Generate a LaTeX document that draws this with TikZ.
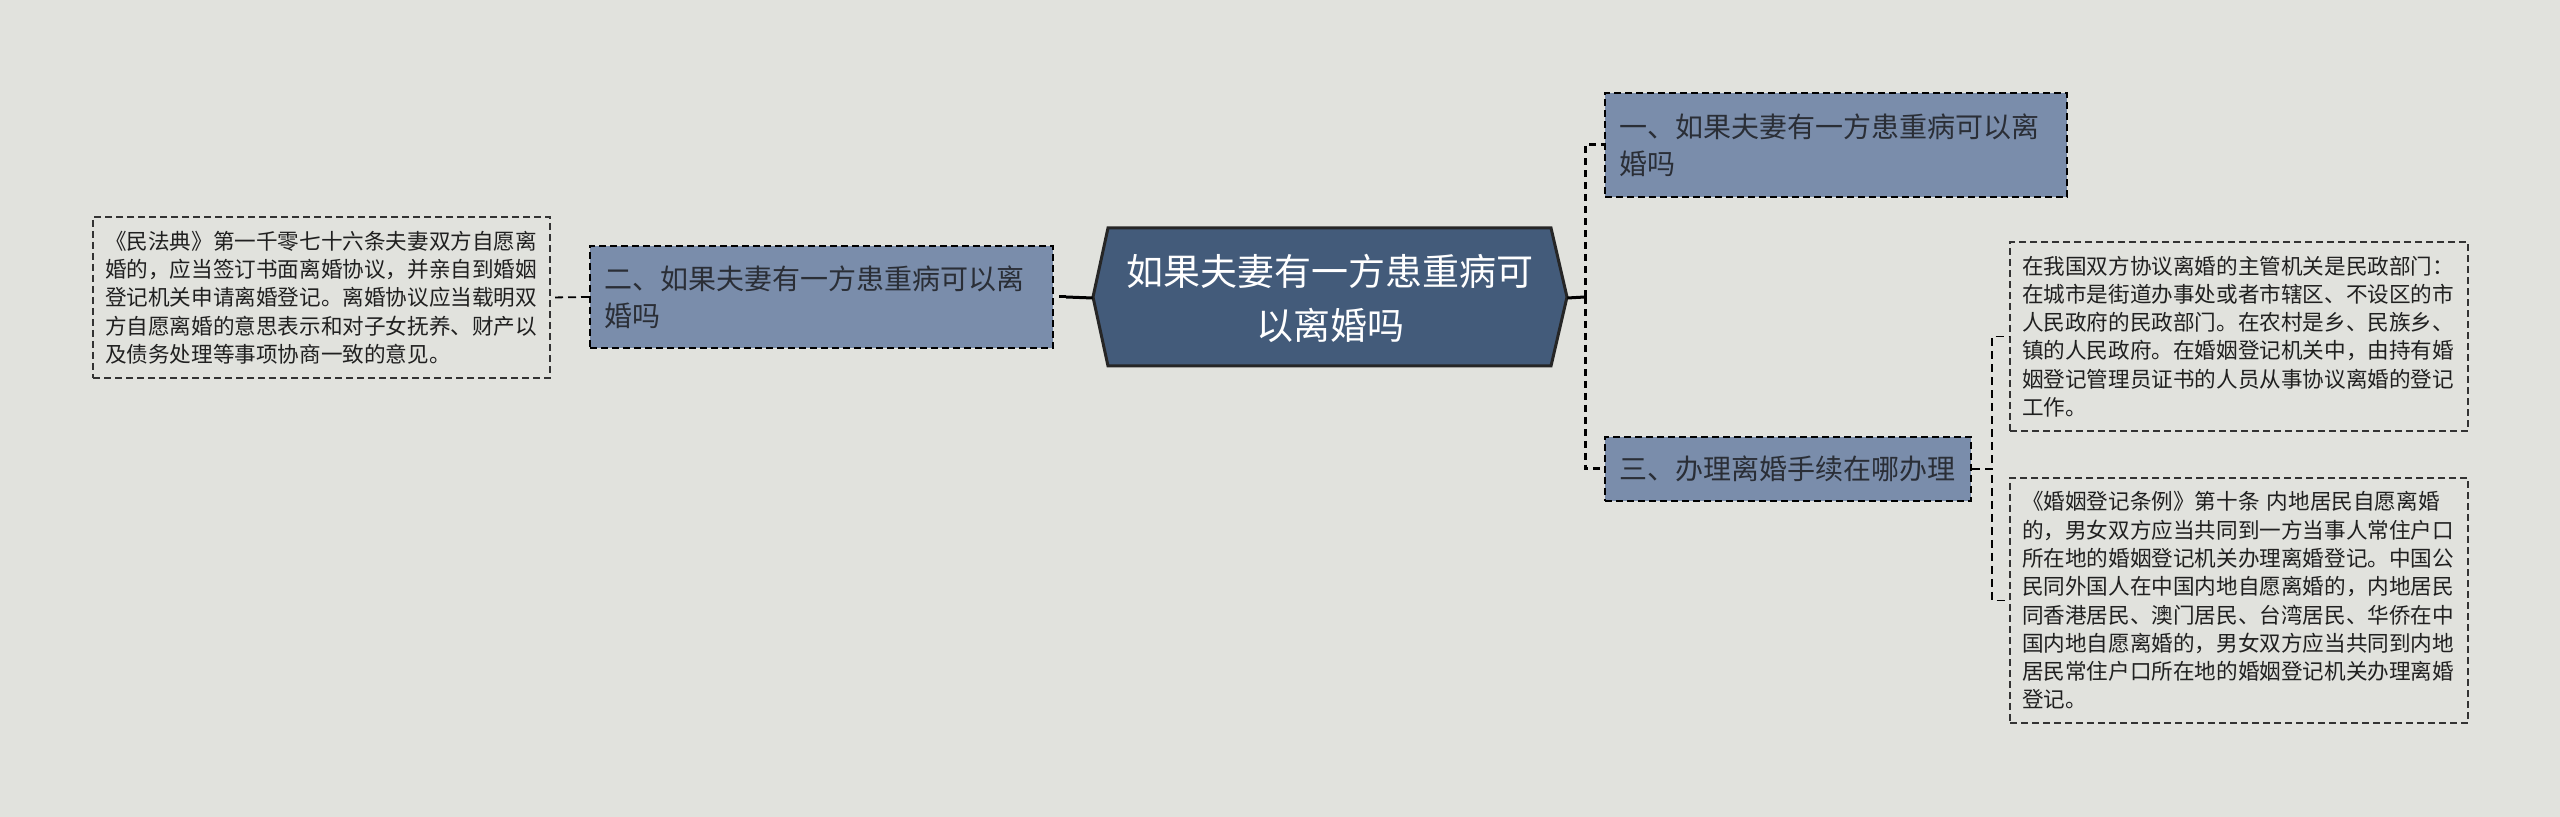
\documentclass[tikz,border=0pt]{standalone}
\usepackage{fontspec}
\newfontfamily\cjk{Noto Sans CJK SC}
\definecolor{bgc}{HTML}{E1E2DD}
\definecolor{hexfill}{HTML}{435B7A}
\definecolor{brfill}{HTML}{7A8DAB}
\definecolor{brtxt}{HTML}{2A2E36}
\definecolor{leaftxt}{HTML}{202020}
\definecolor{leafline}{HTML}{333333}
\tikzset{
  rootbox/.style={inner sep=0pt, minimum width=237pt, minimum height=69pt, text=white,
    font=\cjk\fontsize{18.5pt}{27pt}\selectfont, align=center},
  hexshape/.style={fill=hexfill, draw=black!85, line width=1.5pt, line join=miter},
  branch/.style={draw=black, line width=1pt, dash pattern=on 3.5pt off 2pt, fill=brfill,
    inner xsep=7pt, inner ysep=0pt, align=left, text=brtxt,
    font=\cjk\fontsize{14pt}{18.3pt}\selectfont},
  leaf/.style={draw=leafline, line width=0.8pt, dash pattern=on 3.5pt off 2pt,
    inner xsep=6pt, inner ysep=0pt, align=left, text=leaftxt,
    font=\cjk\fontsize{10.8pt}{14.15pt}\selectfont},
  mainline/.style={draw=black, line width=1.5pt},
  maindash/.style={mainline, dash pattern=on 3.5pt off 2.5pt},
  leafdash/.style={draw=black, line width=0.9pt, dash pattern=on 4pt off 2.5pt},
}
\begin{document}
\begin{tikzpicture}[x=0.5pt,y=-0.5pt]
\fill[bgc] (0,0) rectangle (2560,817);
\useasboundingbox (0,0) rectangle (2560,817);
% central hexagon
\draw[hexshape] (1093,297) -- (1108,228) -- (1551,228) -- (1567,297) -- (1551,366) -- (1108,366) -- cycle;
\node[rootbox] (root) at (1330,298) {如果夫妻有一方患重病可\\以离婚吗};
% branches
\node[branch, minimum width=231.5pt, minimum height=51pt, text width=217.5pt] (b2) at (821.5,297) {二、如果夫妻有一方患重病可以离\\婚吗};
\node[branch, minimum width=231pt, minimum height=52pt, text width=217pt] (b1) at (1836,145) {一、如果夫妻有一方患重病可以离\\婚吗};
\node[branch, minimum width=183pt, minimum height=32pt, text width=169pt] (b3) at (1788,469) {三、办理离婚手续在哪办理};
% leaves
\node[leaf, minimum width=228.5pt, minimum height=80.5pt, text width=216.5pt] (l0) at (321.5,297.5) {《民法典》第一千零七十六条夫妻双方自愿离\\婚的，应当签订书面离婚协议，并亲自到婚姻\\登记机关申请离婚登记。离婚协议应当载明双\\方自愿离婚的意思表示和对子女抚养、财产以\\及债务处理等事项协商一致的意见。};
\node[leaf, minimum width=229pt, minimum height=94.5pt, text width=217pt] (l1) at (2239,336.5) {在我国双方协议离婚的主管机关是民政部门：\\在城市是街道办事处或者市辖区、不设区的市\\人民政府的民政部门。在农村是乡、民族乡、\\镇的人民政府。在婚姻登记机关中，由持有婚\\姻登记管理员证书的人员从事协议离婚的登记\\工作。};
\node[leaf, minimum width=229pt, minimum height=122.5pt, text width=217pt] (l2) at (2239,600.5) {《婚姻登记条例》第十条 内地居民自愿离婚\\的，男女双方应当共同到一方当事人常住户口\\所在地的婚姻登记机关办理离婚登记。中国公\\民同外国人在中国内地自愿离婚的，内地居民\\同香港居民、澳门居民、台湾居民、华侨在中\\国内地自愿离婚的，男女双方应当共同到内地\\居民常住户口所在地的婚姻登记机关办理离婚\\登记。};
% connectors
\coordinate (lhub) at (1066,297);
\coordinate (rhub) at (1585,297);
\draw[mainline] (root.west) -- (lhub);
\draw[maindash] (lhub) -- (b2.east);
\draw[mainline] (root.east) -- (rhub);
\draw[maindash] (rhub) |- (b1.west);
\draw[maindash] (rhub) |- (b3.west);
\draw[leafdash] (b2.west) -- (l0.east);
\draw[leafdash] (b3.east) -- ++(20,0) |- (l1.west);
\draw[leafdash] (b3.east) -- ++(20,0) |- (l2.west);
\end{tikzpicture}
\end{document}
